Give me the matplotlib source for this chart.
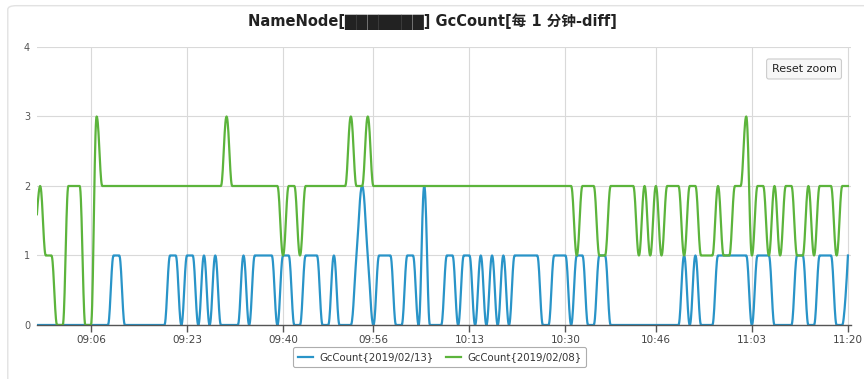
import numpy as np
import matplotlib
matplotlib.use("Agg")
import matplotlib.pyplot as plt
from matplotlib.patches import FancyBboxPatch

plt.rcParams['font.family'] = ['DejaVu Sans', 'Noto Sans CJK SC']

# time of the first sample, one value per minute
start_time = "08:56"

# GcCount{2019/02/13}, 08:56 .. 11:20, one row = 10 minutes
gc_0213 = [0, 0, 0, 0, 0, 0, 0, 0, 0, 0,
           0, 0, 0, 0, 1, 1, 0, 0, 0, 0,
           0, 0, 0, 0, 1, 1, 0, 1, 1, 0,
           1, 0, 1, 0, 0, 0, 0, 1, 0, 1,
           1, 1, 1, 0, 1, 1, 0, 0, 1, 1,
           1, 0, 0, 1, 0, 0, 0, 1, 2, 1,
           0, 1, 1, 1, 0, 0, 1, 1, 0, 2,
           0, 0, 0, 1, 1, 0, 1, 1, 0, 1,
           0, 1, 0, 1, 0, 1, 1, 1, 1, 1,
           0, 0, 1, 1, 1, 0, 1, 1, 0, 0,
           1, 1, 0, 0, 0, 0, 0, 0, 0, 0,
           0, 0, 0, 0, 0, 1, 0, 1, 0, 0,
           0, 1, 1, 1, 1, 1, 1, 0, 1, 1,
           1, 0, 0, 0, 0, 1, 1, 0, 0, 1,
           1, 1, 0, 0, 1]

# GcCount{2019/02/08}
gc_0208 = [1, 2, 1, 1, 0, 0, 2, 2, 2, 0,
           0, 3, 2, 2, 2, 2, 2, 2, 2, 2,
           2, 2, 2, 2, 2, 2, 2, 2, 2, 2,
           2, 2, 2, 2, 3, 2, 2, 2, 2, 2,
           2, 2, 2, 2, 1, 2, 2, 1, 2, 2,
           2, 2, 2, 2, 2, 2, 3, 2, 2, 3,
           2, 2, 2, 2, 2, 2, 2, 2, 2, 2,
           2, 2, 2, 2, 2, 2, 2, 2, 2, 2,
           2, 2, 2, 2, 2, 2, 2, 2, 2, 2,
           2, 2, 2, 2, 2, 2, 1, 2, 2, 2,
           1, 1, 2, 2, 2, 2, 2, 1, 2, 1,
           2, 1, 2, 2, 2, 1, 2, 2, 1, 1,
           1, 2, 1, 1, 2, 2, 3, 1, 2, 2,
           1, 2, 1, 2, 2, 1, 1, 2, 1, 2,
           2, 2, 1, 2, 2]

series_names = ["GcCount{2019/02/13}", "GcCount{2019/02/08}"]
series_colors = ["#2994c8", "#5cb43c"]

tick_labels = ["09:06", "09:23", "09:40", "09:56", "10:13",
               "10:30", "10:46", "11:03", "11:20"]
y_ticks = [0, 1, 2, 3, 4]

title = "NameNode[\u2588\u2588\u2588\u2588\u2588\u2588\u2588] GcCount[每 1 分钟-diff]"


def to_min(s):
    h, m = s.split(":")
    return int(h) * 60 + int(m)


def spline(x, y, n=16):
    # highcharts style spline: bezier segments, flat at local extremes
    x = np.asarray(x, float)
    y = np.asarray(y, float)
    N = len(x)
    lcx, lcy = x.copy(), y.copy()
    rcx, rcy = x.copy(), y.copy()
    for i in range(1, N - 1):
        lx = (1.5 * x[i] + x[i - 1]) / 2.5
        ly = (1.5 * y[i] + y[i - 1]) / 2.5
        rx = (1.5 * x[i] + x[i + 1]) / 2.5
        ry = (1.5 * y[i] + y[i + 1]) / 2.5
        corr = (ry - ly) * (rx - x[i]) / (rx - lx) + y[i] - ry
        ly += corr
        ry += corr
        if ly > y[i - 1] and ly > y[i]:
            ly = max(y[i - 1], y[i]); ry = 2 * y[i] - ly
        elif ly < y[i - 1] and ly < y[i]:
            ly = min(y[i - 1], y[i]); ry = 2 * y[i] - ly
        if ry > y[i + 1] and ry > y[i]:
            ry = max(y[i + 1], y[i]); ly = 2 * y[i] - ry
        elif ry < y[i + 1] and ry < y[i]:
            ry = min(y[i + 1], y[i]); ly = 2 * y[i] - ry
        lcx[i], lcy[i], rcx[i], rcy[i] = lx, ly, rx, ry
    t = np.linspace(0, 1, n, endpoint=False)[:, None]
    a, b, c, d = (1 - t) ** 3, 3 * (1 - t) ** 2 * t, 3 * (1 - t) * t ** 2, t ** 3
    px = a * x[:-1] + b * rcx[:-1] + c * lcx[1:] + d * x[1:]
    py = a * y[:-1] + b * rcy[:-1] + c * lcy[1:] + d * y[1:]
    px = np.append(px.T.ravel(), x[-1])
    py = np.append(py.T.ravel(), y[-1])
    return px, py


t0 = to_min(start_time)
minutes = t0 + np.arange(len(gc_0213))
tick_pos = [to_min(s) for s in tick_labels]

fig = plt.figure(figsize=(8.64, 3.79), dpi=100)
fig.patches.append(FancyBboxPatch((0.009, -0.05), 1.05, 1.035,
                                  boxstyle="round,pad=0,rounding_size=0.01",
                                  transform=fig.transFigure, fill=False,
                                  edgecolor="#e2e2e2", linewidth=1))
ax = fig.add_axes([0.0428, 0.1425, 0.9422, 0.7335])

for vals, name, col in zip([gc_0213, gc_0208], series_names, series_colors):
    sx, sy = spline(minutes, vals)
    ax.plot(sx, sy, color=col, lw=1.6, label=name, solid_joinstyle="round")

ax.set_xlim(t0 + 0.44, tick_pos[-1] + 0.55)
ax.set_ylim(0, 4)
ax.set_xticks(tick_pos)
ax.set_xticklabels(tick_labels)
ax.set_yticks(y_ticks)
ax.grid(True, color="#d9d9d9", lw=0.8)
ax.set_axisbelow(True)
for s in ["top", "right", "left"]:
    ax.spines[s].set_visible(False)
ax.spines["bottom"].set_color("#555555")
ax.spines["bottom"].set_linewidth(1.0)
ax.tick_params(axis="x", length=5, width=1, color="#555555", labelsize=7.5,
               labelcolor="#444444", pad=2)
ax.tick_params(axis="y", length=0, labelsize=7, labelcolor="#555555", pad=5)

fig.text(0.5, 0.942, title, ha="center", va="center", fontsize=10.5,
         fontweight="bold", color="#222222")

fig.text(0.9306, 0.818, "Reset zoom", ha="center", va="center", fontsize=8,
         color="#222222",
         bbox=dict(boxstyle="round,pad=0.45,rounding_size=0.2",
                   facecolor="#f7f7f7", edgecolor="#cccccc", lw=0.8))

leg = fig.legend(loc="center", bbox_to_anchor=(0.509, 0.057), ncol=2,
                 fontsize=7.3, frameon=True, fancybox=True, handlelength=1.5,
                 columnspacing=1.2, borderpad=0.5, handletextpad=0.6)
leg.get_frame().set_edgecolor("#999999")
leg.get_frame().set_linewidth(0.8)
for txt in leg.get_texts():
    txt.set_color("#333333")

fig.savefig("out.png", dpi=100)
